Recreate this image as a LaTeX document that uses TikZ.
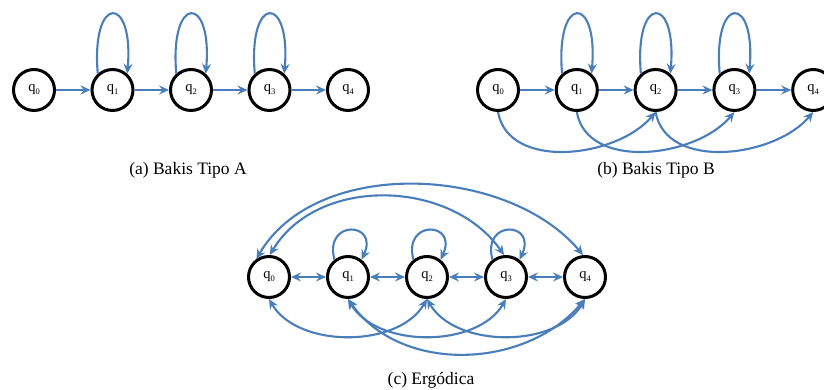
\documentclass[tikz,border=0pt]{standalone}
\usepackage{fontspec}
\setmainfont{Liberation Serif}
\usetikzlibrary{arrows.meta}
\definecolor{edgeblue}{RGB}{74,126,187}
\newcommand{\qlab}[1]{q\raisebox{-2.4pt}{\fontsize{8.5}{8.5}\selectfont #1}}
\begin{document}
\begin{tikzpicture}[x=1pt,y=1pt,
  state/.style={circle,draw=black,line width=3pt,minimum size=41pt,inner sep=0pt,font=\fontsize{14.5}{14.5}\selectfont},
  edge/.style={draw=edgeblue,line width=2.1pt,-{Stealth[length=10pt,width=9pt,inset=3.5pt]}},
  bedge/.style={draw=edgeblue,line width=2.1pt,{Stealth[length=10pt,width=9pt,inset=3.5pt]}-{Stealth[length=10pt,width=9pt,inset=3.5pt]}},
  captext/.style={font=\fontsize{17.5}{17.5}\selectfont}]
\useasboundingbox (0,0) rectangle (824,390);

% (a) Bakis Tipo A
\foreach \i/\x in {0/34,1/112.5,2/191,3/269.5,4/348}
  \node[state] (a\i) at (\x,300) {\qlab{\i}};
\draw[edge] (a0) -- (a1);
\draw[edge] (a1) -- (a2);
\draw[edge] (a2) -- (a3);
\draw[edge] (a3) -- (a4);
\foreach \i in {1,2,3}
  \draw[edge] (a\i.132) .. controls +(95:80) and +(85:80) .. (a\i.48);
\node[captext] (capa) at (188,219.5) {(a) Bakis Tipo A};

% (b) Bakis Tipo B
\foreach \i/\x in {0/498,1/576.8,2/655.6,3/734.4,4/813.2}
  \node[state] (b\i) at (\x,300) {\qlab{\i}};
\draw[edge] (b0) -- (b1);
\draw[edge] (b1) -- (b2);
\draw[edge] (b2) -- (b3);
\draw[edge] (b3) -- (b4);
\foreach \i in {1,2,3}
  \draw[edge] (b\i.132) .. controls +(95:80) and +(85:80) .. (b\i.48);
\draw[edge] (b0.south) .. controls +(-80:60) and +(-130:60) .. (b2.south);
\draw[edge] (b1.south) .. controls +(-80:60) and +(-130:60) .. (b3.south);
\draw[edge] (b2.south) .. controls +(-80:60) and +(-130:60) .. (b4.south);
\node[captext] (capb) at (656,219.5) {(b) Bakis Tipo B};

% (c) Ergodica
\foreach \i/\x in {0/269,1/348,2/427,3/506,4/585}
  \node[state] (c\i) at (\x,113) {\qlab{\i}};
\draw[bedge] (c0) -- (c1);
\draw[bedge] (c1) -- (c2);
\draw[bedge] (c2) -- (c3);
\draw[bedge] (c3) -- (c4);
\foreach \i in {1,2,3}
  \draw[edge] (c\i.128) .. controls +(105:42) and +(65:42) .. (c\i.52);
\draw[bedge] (c0.125) .. controls +(60:118) and +(130:118) .. (c4.95);
\draw[bedge] (c0.88) .. controls +(59:93) and +(125:93) .. (c3.95);
\draw[bedge] (c0.south) .. controls +(-60:57) and +(-120:57) .. (c2.south);
\draw[bedge] (c1.south) .. controls +(-60:57) and +(-120:57) .. (c3.south);
\draw[bedge] (c2.south) .. controls +(-60:57) and +(-120:57) .. (c4.south);
\draw[bedge] (c1.south) .. controls +(-55:92) and +(-130:92) .. (c4.south);
\node[captext] (capc) at (431,10) {(c) Ergódica};
\end{tikzpicture}
\end{document}
